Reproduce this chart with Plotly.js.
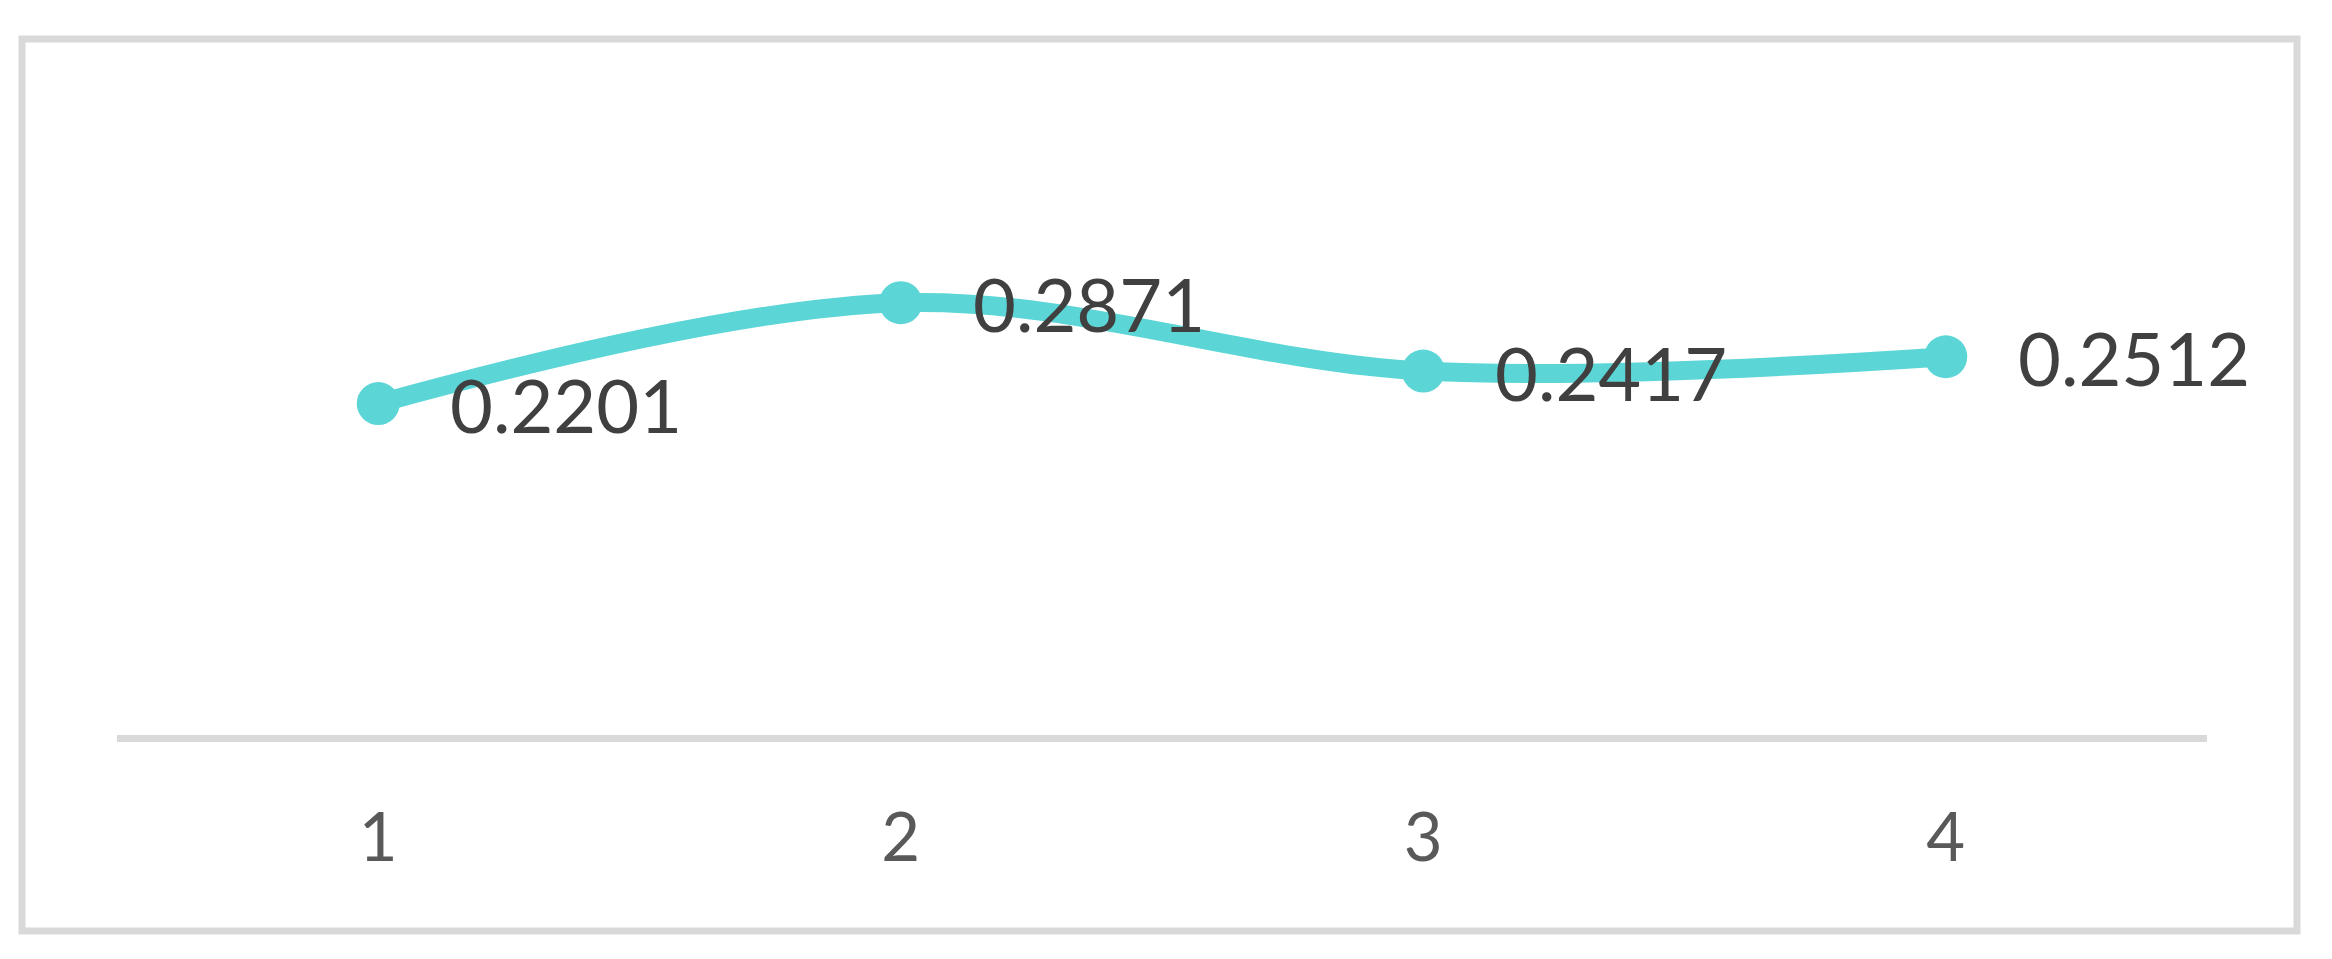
<!DOCTYPE html>
<html>
<head>
<meta charset="utf-8">
<script src="https://cdn.plot.ly/plotly-3.0.1.min.js"></script>
<style>
  html, body { margin: 0; padding: 0; background: #ffffff; }
  #chart { width: 2332px; height: 959px; }
</style>
</head>
<body>
<div id="chart"></div>
<script>
const categories = [1, 2, 3, 4];
const tickLabels = ['1', '2', '3', '4'];
const values = [0.2201, 0.2871, 0.2417, 0.2512];
const valueLabels = ['0.2201', '0.2871', '0.2417', '0.2512'];

const W = 2332, H = 959;
const M = { l: 117, r: 125, t: 208, b: 224 };
const plotW = W - M.l - M.r;
const plotH = H - M.t - M.b;
const px2fx = (px) => (px - M.l) / plotW;
const py2fy = (py) => (H - M.b - py) / plotH;

const lineColor = '#5BD5D5';

const trace = {
  type: 'scatter',
  mode: 'lines+markers',
  x: categories,
  y: values,
  line: { color: lineColor, width: 19, shape: 'spline', smoothing: 1 },
  marker: { color: lineColor, size: 43 },
  cliponaxis: false,
  hoverinfo: 'skip',
  showlegend: false
};

const annotations = categories.map((c, i) => ({
  x: c, y: values[i], xref: 'x', yref: 'y',
  text: valueLabels[i],
  showarrow: false,
  xanchor: 'left', yanchor: 'middle',
  xshift: 70, yshift: -1,
  font: { family: 'Lato, sans-serif', size: 74, color: '#404040' }
}));

const layout = {
  width: W, height: H,
  margin: M,
  paper_bgcolor: '#ffffff',
  plot_bgcolor: '#ffffff',
  showlegend: false,
  hovermode: false,
  xaxis: {
    range: [0.5, 4.5],
    tickmode: 'array',
    tickvals: categories,
    ticktext: tickLabels,
    showgrid: false,
    zeroline: false,
    showline: true,
    linecolor: '#D9D9D9',
    linewidth: 7,
    ticks: '',
    ticklabelstandoff: 39,
    tickfont: { family: 'Lato, sans-serif', size: 67, color: '#595959' },
    fixedrange: true
  },
  yaxis: {
    range: [0, 0.35],
    showgrid: false,
    zeroline: false,
    showline: false,
    showticklabels: false,
    ticks: '',
    fixedrange: true
  },
  annotations: annotations,
  shapes: [{
    type: 'rect', xref: 'paper', yref: 'paper',
    x0: px2fx(22), x1: px2fx(2297),
    y0: py2fy(931), y1: py2fy(39),
    line: { color: '#D9D9D9', width: 7 },
    fillcolor: 'rgba(0,0,0,0)',
    layer: 'below'
  }]
};

Plotly.newPlot('chart', [trace], layout, { displayModeBar: false, staticPlot: true });
</script>
</body>
</html>
